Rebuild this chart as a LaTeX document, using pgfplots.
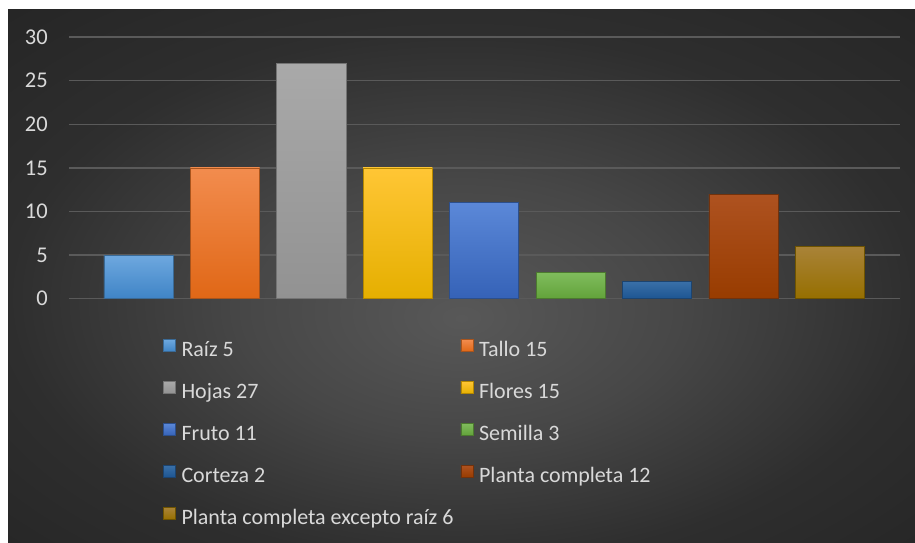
\documentclass[border=0pt]{standalone}
\usepackage{pgfplots}
\pgfplotsset{compat=1.18}
\usepackage{fontspec}
\setmainfont{Carlito}

\definecolor{bgA}{HTML}{585858}
\definecolor{bgB}{HTML}{474747}
\definecolor{bgC}{HTML}{2E2E2E}
\definecolor{bgD}{HTML}{262626}
\definecolor{txt}{HTML}{D9D9D9}
\definecolor{gridc}{HTML}{5A5A5A}

\definecolor{c1t}{HTML}{6EA8DF}\definecolor{c1b}{HTML}{3F84C6}\definecolor{c1d}{HTML}{3A6A96}
\definecolor{c2t}{HTML}{F28C4E}\definecolor{c2b}{HTML}{E06716}\definecolor{c2d}{HTML}{A9541C}
\definecolor{c3t}{HTML}{A9A9A9}\definecolor{c3b}{HTML}{929292}\definecolor{c3d}{HTML}{747474}
\definecolor{c4t}{HTML}{FFC635}\definecolor{c4b}{HTML}{E5AF00}\definecolor{c4d}{HTML}{B58800}
\definecolor{c5t}{HTML}{5B88D8}\definecolor{c5b}{HTML}{3562B7}\definecolor{c5d}{HTML}{2C4F8C}
\definecolor{c6t}{HTML}{80BC5D}\definecolor{c6b}{HTML}{62A23A}\definecolor{c6d}{HTML}{4C7A2F}
\definecolor{c7t}{HTML}{3A70A8}\definecolor{c7b}{HTML}{1D5592}\definecolor{c7d}{HTML}{1C4470}
\definecolor{c8t}{HTML}{AE5220}\definecolor{c8b}{HTML}{983C00}\definecolor{c8d}{HTML}{72320C}
\definecolor{c9t}{HTML}{A98338}\definecolor{c9b}{HTML}{966F00}\definecolor{c9d}{HTML}{6E5300}

\pgfdeclareradialshading{bgshade}{\pgfpoint{0bp}{-4bp}}{color(0bp)=(bgA); color(12bp)=(bgB); color(25bp)=(bgC); color(36bp)=(bgD); color(50bp)=(bgD)}

\pgfplotsset{
  bstyle/.style={draw=#1d, line width=0.7pt, top color=#1t, bottom color=#1b,
    legend image code/.code={\draw[##1, line width=0.5pt] (0pt,0pt) rectangle (12pt,12pt); \path (18pt,0pt);}},
}

\begin{document}
\begin{tikzpicture}
\fill[white] (0pt,0pt) rectangle (915pt,542pt);
\shade[shading=bgshade] (8pt,0pt) rectangle (915pt,532pt);
\begin{axis}[
  at={(69pt,243.3pt)}, anchor=south west,
  scale only axis, width=831pt, height=261.7pt,
  xmin=-0.804, xmax=8.81, ymin=0, ymax=30,
  ybar, bar width=0.8, bar shift=0pt,
  axis line style={draw=none},
  xtick=\empty,
  ytick={0,5,10,15,20,25,30},
  ymajorgrids, major grid style={draw=gridc, line width=1.3pt},
  major tick length=0pt,
  /pgf/number format/assume math mode=true,
  yticklabel style={font=\fontsize{22.5}{26}\selectfont, text=txt, inner sep=0pt, xshift=-21pt},
  legend columns=2,
  legend cell align=left,
  legend style={at={(0.113,-0.155)}, anchor=north west, draw=none, fill=none,
    inner sep=0pt, outer sep=0pt, row sep=19.7pt, column sep=0pt,
    font=\fontsize{22}{26}\selectfont, text=txt,
    nodes={inner sep=0pt, text height=15pt, text depth=5pt}},
]
\addplot[bstyle=c1] coordinates {(0,5)};
\addlegendentry{\makebox[279pt][l]{Raíz 5}}
\addplot[bstyle=c2] coordinates {(1,15)};
\addlegendentry{Tallo 15}
\addplot[bstyle=c3] coordinates {(2,27)};
\addlegendentry{\makebox[279pt][l]{Hojas 27}}
\addplot[bstyle=c4] coordinates {(3,15)};
\addlegendentry{Flores 15}
\addplot[bstyle=c5] coordinates {(4,11)};
\addlegendentry{\makebox[279pt][l]{Fruto 11}}
\addplot[bstyle=c6] coordinates {(5,3)};
\addlegendentry{Semilla 3}
\addplot[bstyle=c7] coordinates {(6,2)};
\addlegendentry{\makebox[279pt][l]{Corteza 2}}
\addplot[bstyle=c8] coordinates {(7,12)};
\addlegendentry{Planta completa 12}
\addplot[bstyle=c9] coordinates {(8,6)};
\addlegendentry{\makebox[279pt][l]{Planta completa excepto raíz 6}}
\end{axis}
\end{tikzpicture}
\end{document}
